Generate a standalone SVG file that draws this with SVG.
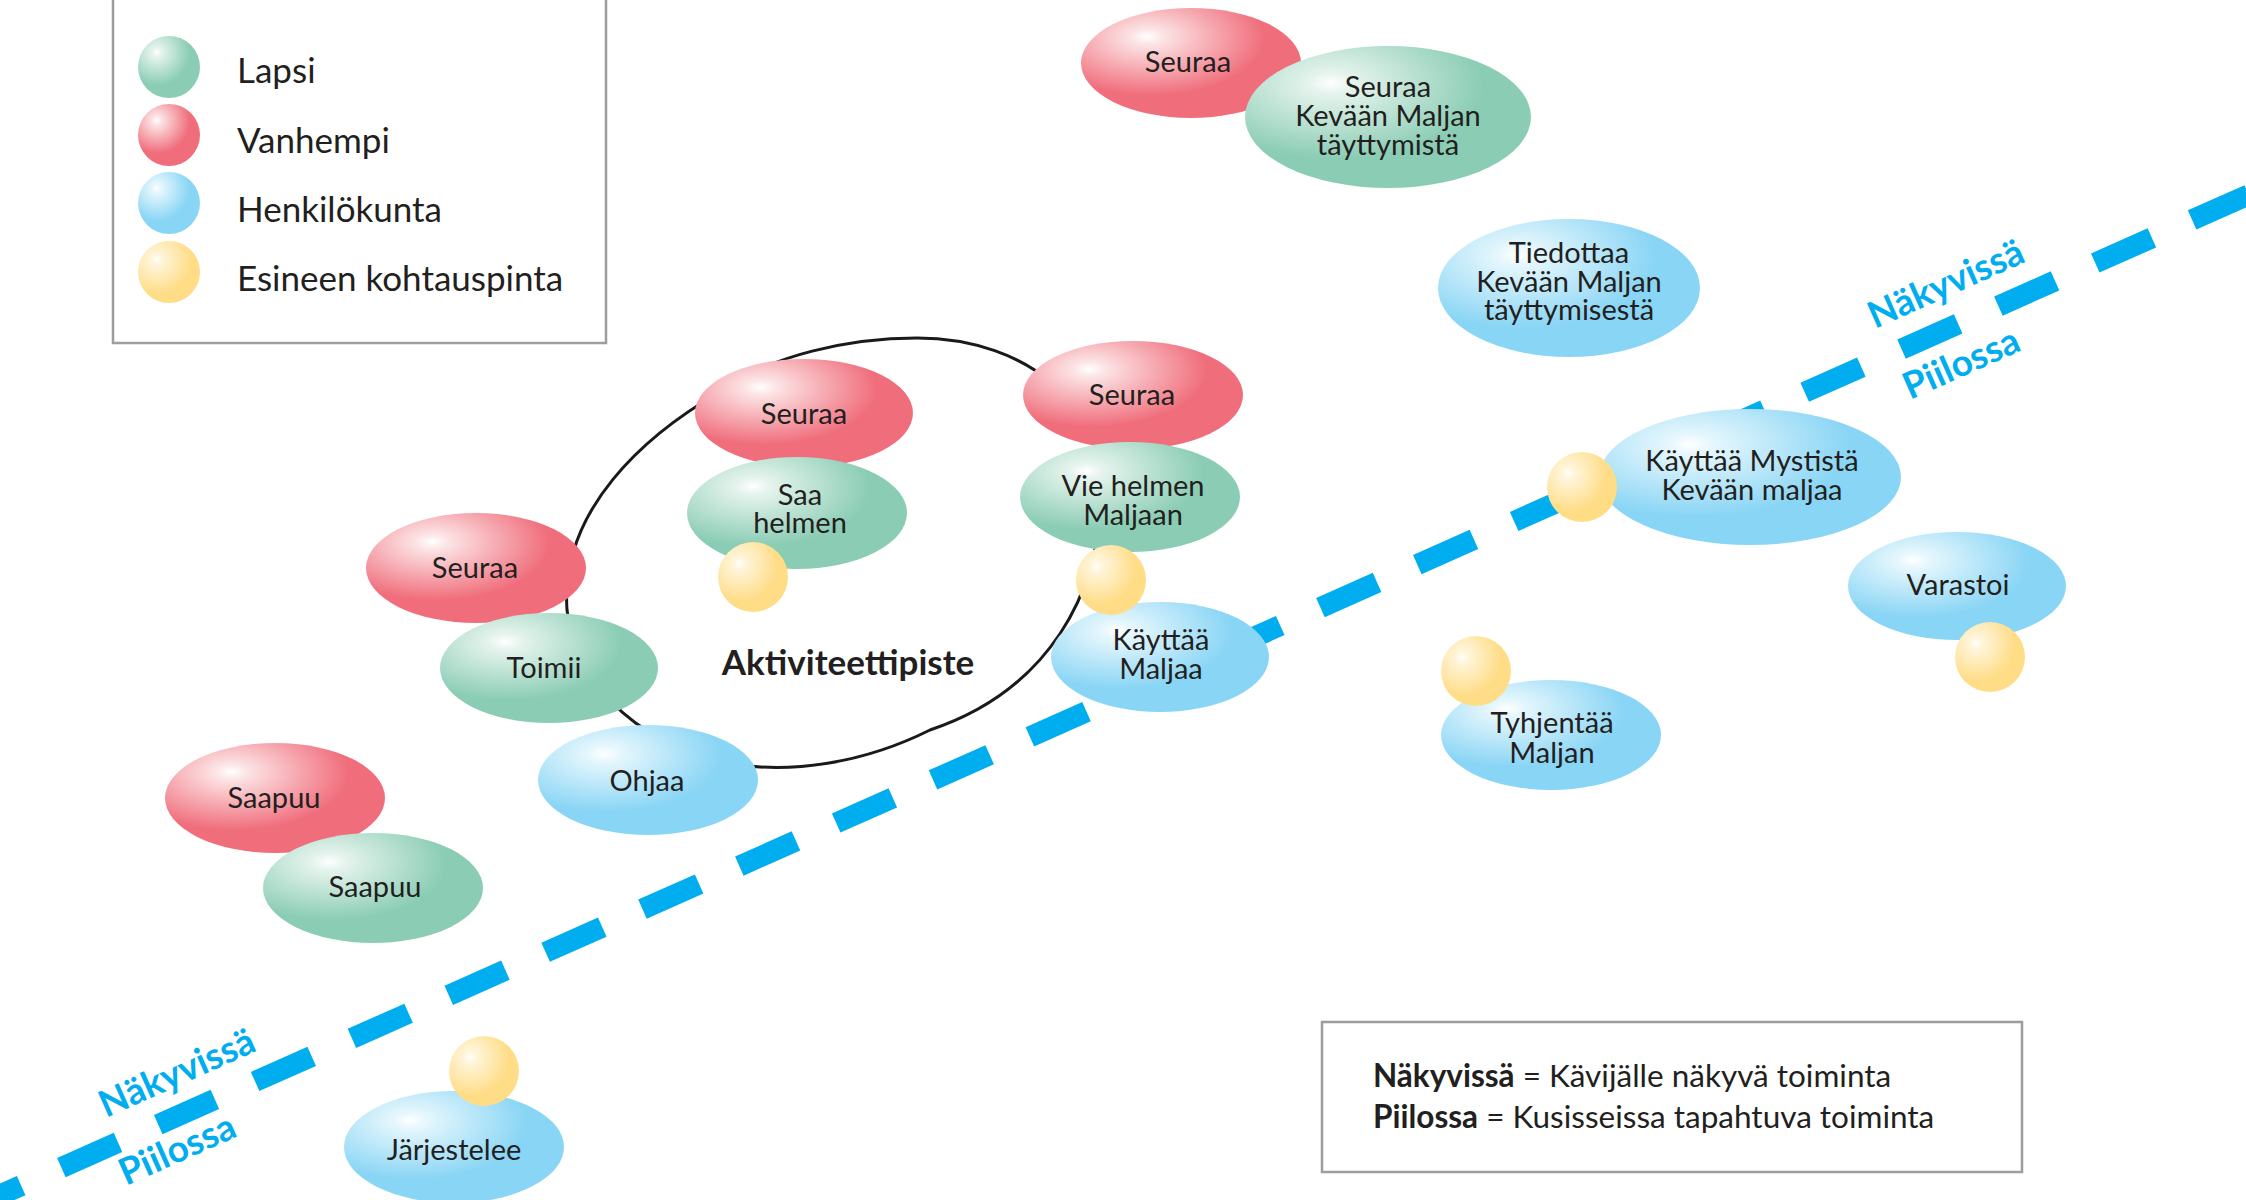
<svg xmlns="http://www.w3.org/2000/svg" width="2246" height="1200" viewBox="0 0 2246 1200">
<defs>
<radialGradient id="gR" cx="0.32" cy="0.28" r="0.72" fx="0.3" fy="0.26">
<stop offset="0" stop-color="#FFFFFF"/>
<stop offset="0.1" stop-color="#FCE4E5"/>
<stop offset="0.72" stop-color="#F06E7C"/>
<stop offset="1" stop-color="#F06E7C"/>
</radialGradient>
<radialGradient id="gG" cx="0.32" cy="0.28" r="0.72" fx="0.3" fy="0.26">
<stop offset="0" stop-color="#FFFFFF"/>
<stop offset="0.1" stop-color="#E6F4EE"/>
<stop offset="0.72" stop-color="#8BCDB4"/>
<stop offset="1" stop-color="#8BCDB4"/>
</radialGradient>
<radialGradient id="gB" cx="0.32" cy="0.28" r="0.72" fx="0.3" fy="0.26">
<stop offset="0" stop-color="#FFFFFF"/>
<stop offset="0.1" stop-color="#E6F7FD"/>
<stop offset="0.72" stop-color="#89D5F5"/>
<stop offset="1" stop-color="#89D5F5"/>
</radialGradient>
<radialGradient id="gY" cx="0.32" cy="0.32" r="0.72" fx="0.3" fy="0.3">
<stop offset="0" stop-color="#FFFFFF"/>
<stop offset="0.1" stop-color="#FFF6DE"/>
<stop offset="0.75" stop-color="#FFDD87"/>
<stop offset="1" stop-color="#FFDD87"/>
</radialGradient>
<style>
.t{font-family:Lato,"Open Sans","Liberation Sans",sans-serif;font-size:29px;fill:#231F20;text-anchor:middle}
.lg{font-family:Lato,"Open Sans","Liberation Sans",sans-serif;font-size:35px;fill:#231F20}
.ex{font-family:Lato,"Open Sans","Liberation Sans",sans-serif;font-size:31.5px;fill:#231F20}
.bl{font-family:Lato,"Open Sans","Liberation Sans",sans-serif;font-size:37px;font-weight:bold;fill:#00AEEF}
.box{fill:#FFFFFF;stroke:#9D9D9D;stroke-width:2.5}
.red{fill:url(#gR)}
.green{fill:url(#gG)}
.blue{fill:url(#gB)}
.yel{fill:url(#gY)}
</style>
</defs>
<rect width="2246" height="1200" fill="#FFFFFF"/>

<g id="legend">
<rect class="box" x="113" y="-10" width="493" height="353"/>
<circle class="green" cx="169" cy="67" r="31"/>
<circle class="red" cx="169" cy="135" r="31"/>
<circle class="blue" cx="169" cy="203" r="31"/>
<circle class="yel" cx="169" cy="272" r="31"/>
<text class="lg" x="237" y="83">Lapsi</text>
<text class="lg" x="237" y="153">Vanhempi</text>
<text class="lg" x="237" y="222">Henkilökunta</text>
<text class="lg" x="237" y="291">Esineen kohtauspinta</text>
</g>

<g id="connectors">
<path id="boundary" d="M -30,1208.3 L 2276,182.6" fill="none" stroke="#00AEEF" stroke-width="21" stroke-dasharray="62 44" stroke-dashoffset="6"/>
<path id="activity-area" d="M 917,338 C 1030,338 1110,410 1100,500 C 1100,590 1050,690 930,730 C 860,765 790,772 740,765 C 650,752 575,690 567,610 C 560,510 645,435 720,392 C 770,355 850,338 917,338 Z" fill="none" stroke="#1A1A1A" stroke-width="3"/>
</g>

<g id="labels">
<text class="bl" transform="translate(106,1118) rotate(-24)">Näkyvissä</text>
<text class="bl" transform="translate(126,1186) rotate(-24)">Piilossa</text>
<text class="bl" transform="translate(1875,329) rotate(-24)">Näkyvissä</text>
<text class="bl" transform="translate(1910,400) rotate(-24)">Piilossa</text>
<text class="t" x="848" y="675" style="font-weight:bold;font-size:35px">Aktiviteettipiste</text>
</g>

<g id="n-seuraa-top"><ellipse class="red" cx="1191" cy="63" rx="110" ry="55"/><text class="t" x="1188" y="72">Seuraa</text></g>
<g id="n-seuraa-kevaan"><ellipse class="green" cx="1388" cy="117" rx="143" ry="71"/><text class="t" y="97"><tspan x="1388">Seuraa</tspan><tspan x="1388" dy="29">Kevään Maljan</tspan><tspan x="1388" dy="29">täyttymistä</tspan></text></g>
<g id="n-tiedottaa"><ellipse class="blue" cx="1569" cy="288" rx="131" ry="69"/><text class="t" y="263"><tspan x="1569">Tiedottaa</tspan><tspan x="1569" dy="29">Kevään Maljan</tspan><tspan x="1569" dy="28">täyttymisestä</tspan></text></g>

<g id="n-seuraa-left"><ellipse class="red" cx="476" cy="568" rx="110" ry="55"/><text class="t" x="475" y="578">Seuraa</text></g>
<g id="n-toimii"><ellipse class="green" cx="549" cy="668" rx="109" ry="55"/><text class="t" x="544" y="678">Toimii</text></g>
<g id="n-ohjaa"><ellipse class="blue" cx="648" cy="780" rx="110" ry="55"/><text class="t" x="647" y="791">Ohjaa</text></g>

<g id="n-seuraa-mid"><ellipse class="red" cx="804" cy="413" rx="109" ry="54"/><text class="t" x="804" y="424">Seuraa</text></g>
<g id="n-saa-helmen"><ellipse class="green" cx="797" cy="513" rx="110" ry="56"/><text class="t" y="505"><tspan x="800">Saa</tspan><tspan x="800" dy="28">helmen</tspan></text></g>
<g id="o-saa-helmen"><circle class="yel" cx="753" cy="577" r="35"/></g>

<g id="n-seuraa-right"><ellipse class="red" cx="1133" cy="395" rx="110" ry="54"/><text class="t" x="1132" y="405">Seuraa</text></g>
<g id="n-vie-helmen"><ellipse class="green" cx="1130" cy="497" rx="110" ry="55"/><text class="t" y="496"><tspan x="1133">Vie helmen</tspan><tspan x="1133" dy="29">Maljaan</tspan></text></g>
<g id="n-kayttaa-maljaa"><ellipse class="blue" cx="1160" cy="657" rx="109" ry="55"/><text class="t" y="650"><tspan x="1161">Käyttää</tspan><tspan x="1161" dy="29">Maljaa</tspan></text></g>
<g id="o-vie-helmen"><circle class="yel" cx="1111" cy="580" r="35"/></g>

<g id="n-kayttaa-mystista"><ellipse class="blue" cx="1750" cy="477" rx="151" ry="68"/><text class="t" y="471"><tspan x="1752">Käyttää Mystistä</tspan><tspan x="1752" dy="29">Kevään maljaa</tspan></text></g>
<g id="o-kayttaa-mystista"><circle class="yel" cx="1582" cy="487" r="35"/></g>

<g id="n-varastoi"><ellipse class="blue" cx="1957" cy="586" rx="109" ry="54"/><text class="t" x="1958" y="595">Varastoi</text></g>
<g id="o-varastoi"><circle class="yel" cx="1990" cy="657" r="35"/></g>

<g id="n-tyhjentaa"><ellipse class="blue" cx="1551" cy="735" rx="110" ry="55"/><text class="t" y="733"><tspan x="1552">Tyhjentää</tspan><tspan x="1552" dy="30">Maljan</tspan></text></g>
<g id="o-tyhjentaa"><circle class="yel" cx="1476" cy="671" r="35"/></g>

<g id="n-saapuu-red"><ellipse class="red" cx="275" cy="798" rx="110" ry="55"/><text class="t" x="274" y="808">Saapuu</text></g>
<g id="n-saapuu-green"><ellipse class="green" cx="373" cy="888" rx="110" ry="55"/><text class="t" x="375" y="897">Saapuu</text></g>

<g id="n-jarjestelee"><ellipse class="blue" cx="454" cy="1147" rx="110" ry="56"/><text class="t" x="454" y="1160">Järjestelee</text></g>
<g id="o-jarjestelee"><circle class="yel" cx="484" cy="1071" r="35"/></g>

<g id="explanation">
<rect class="box" x="1322" y="1022" width="700" height="150"/>
<text class="ex" x="1373" y="1087"><tspan font-weight="bold">Näkyvissä</tspan> = Kävijälle näkyvä toiminta</text>
<text class="ex" x="1373" y="1128"><tspan font-weight="bold">Piilossa</tspan> = Kusisseissa tapahtuva toiminta</text>
</g>
</svg>
